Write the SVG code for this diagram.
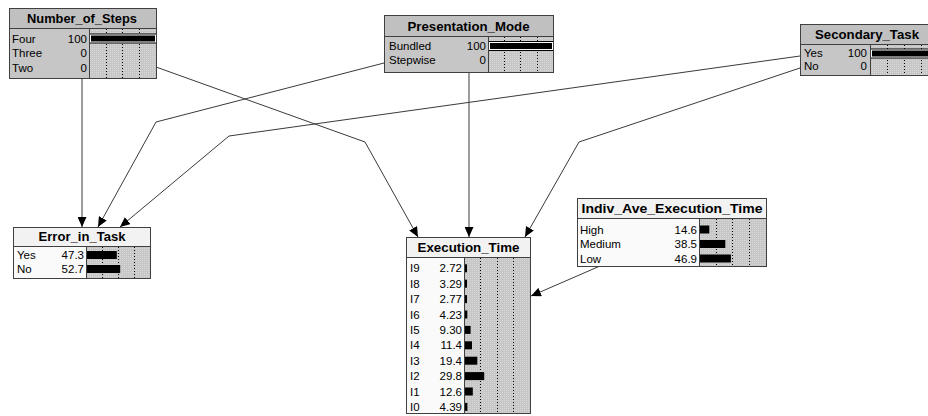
<svg xmlns="http://www.w3.org/2000/svg" width="928" height="416" viewBox="0 0 928 416">
<defs>
<pattern id="stip" width="2" height="2" patternUnits="userSpaceOnUse">
<rect width="2" height="2" fill="#c6c6c6"/>
<rect width="1" height="1" fill="#d8d8d8"/>
</pattern>
<marker id="ah" markerUnits="userSpaceOnUse" markerWidth="10" markerHeight="9" refX="10" refY="4.5" orient="auto">
<path d="M0,0 L10,4.5 L0,9 z" fill="#000"/>
</marker>
</defs>
<style>
.box{stroke:#404040;stroke-width:1}
.ev{fill:#c0c0c0}
.evb{fill:#c6c6c6}
.nh{fill:#f2f2f2}
.nb{fill:#fafafa}
.ba{fill:url(#stip)}
.sep{stroke:#404040;stroke-width:1}
.dot{stroke:#000;stroke-width:1;stroke-dasharray:1 2}
.t{font-family:"Liberation Sans",Arial,sans-serif;font-size:13px;font-weight:bold;fill:#000;text-anchor:middle}
.l{font-family:"Liberation Sans",Arial,sans-serif;font-size:11.5px;fill:#000}
.v{font-family:"Liberation Sans",Arial,sans-serif;font-size:11.5px;fill:#000;text-anchor:end}
.bar{fill:#000}
.ct{fill:none;stroke:#3a3a3a;stroke-width:1;marker-end:url(#ah)}
</style>
<rect width="928" height="416" fill="#fff"/>

<g id="connectors">
<polyline class="ct" points="82,78 82,227"/>
<polyline class="ct" points="384,63 156,122 98,227"/>
<polyline class="ct" points="800,56 229,136 120,227"/>
<polyline class="ct" points="156,67 365,142 418,237"/>
<polyline class="ct" points="469,72 469,237"/>
<polyline class="ct" points="800,68 579,142 525,237"/>
<polyline class="ct" points="600,266 531,296"/>
</g>

<g id="Number_of_Steps">
<rect class="ev" x="9.5" y="8.5" width="147" height="70"/>
<rect class="evb" x="9.5" y="28.5" width="80" height="50"/>
<rect class="ba" x="89.5" y="28.5" width="67" height="50"/>
<line class="dot" x1="106.5" y1="29" x2="106.5" y2="78"/>
<line class="dot" x1="122.5" y1="29" x2="122.5" y2="78"/>
<line class="dot" x1="139.5" y1="29" x2="139.5" y2="78"/>
<rect class="bar" x="89.5" y="33.5" width="67" height="10"/>
<rect x="90.5" y="35" width="65" height="7" fill="none" stroke="#fff" stroke-width="1"/>
<rect class="box" x="9.5" y="8.5" width="147" height="70" fill="none"/>
<line class="sep" x1="9.5" y1="28.5" x2="156.5" y2="28.5"/>
<line class="sep" x1="89.5" y1="28.5" x2="89.5" y2="78.5"/>
<text class="t" x="82" y="22.5" textLength="110" lengthAdjust="spacingAndGlyphs">Number_of_Steps</text>
<text class="l" x="12" y="42.5">Four</text><text class="v" x="87" y="42.5">100</text>
<text class="l" x="12" y="57">Three</text><text class="v" x="87" y="57">0</text>
<text class="l" x="12" y="71.5">Two</text><text class="v" x="87" y="71.5">0</text>
</g>

<g id="Presentation_Mode">
<rect class="ev" x="384.5" y="15.5" width="169" height="57"/>
<rect class="evb" x="384.5" y="36.5" width="104" height="36"/>
<rect class="ba" x="488.5" y="36.5" width="65" height="36"/>
<line class="dot" x1="504.5" y1="37" x2="504.5" y2="72"/>
<line class="dot" x1="520.5" y1="37" x2="520.5" y2="72"/>
<line class="dot" x1="537.5" y1="37" x2="537.5" y2="72"/>
<rect class="bar" x="488.5" y="41" width="65" height="10"/>
<rect x="489.5" y="42.5" width="63" height="7" fill="none" stroke="#fff" stroke-width="1"/>
<rect class="box" x="384.5" y="15.5" width="169" height="57" fill="none"/>
<line class="sep" x1="384.5" y1="36.5" x2="553.5" y2="36.5"/>
<line class="sep" x1="488.5" y1="36.5" x2="488.5" y2="72.5"/>
<text class="t" x="468.5" y="30.5" textLength="122" lengthAdjust="spacingAndGlyphs">Presentation_Mode</text>
<text class="l" x="389" y="49.5">Bundled</text><text class="v" x="486" y="49.5">100</text>
<text class="l" x="389" y="64">Stepwise</text><text class="v" x="486" y="64">0</text>
</g>

<g id="Secondary_Task">
<rect class="ev" x="800.5" y="24.5" width="137" height="51"/>
<rect class="evb" x="800.5" y="44.5" width="70" height="31"/>
<rect class="ba" x="870.5" y="44.5" width="67" height="31"/>
<line class="dot" x1="887.5" y1="45" x2="887.5" y2="75"/>
<line class="dot" x1="904.5" y1="45" x2="904.5" y2="75"/>
<line class="dot" x1="921.5" y1="45" x2="921.5" y2="75"/>
<rect class="bar" x="870.5" y="48.5" width="67" height="10"/>
<rect x="871.5" y="50" width="65" height="7" fill="none" stroke="#fff" stroke-width="1"/>
<rect class="box" x="800.5" y="24.5" width="137" height="51" fill="none"/>
<line class="sep" x1="800.5" y1="44.5" x2="937.5" y2="44.5"/>
<line class="sep" x1="870.5" y1="44.5" x2="870.5" y2="75.5"/>
<text class="t" x="867" y="38.5" textLength="104" lengthAdjust="spacingAndGlyphs">Secondary_Task</text>
<text class="l" x="804" y="57">Yes</text><text class="v" x="867" y="57">100</text>
<text class="l" x="804" y="70">No</text><text class="v" x="867" y="70">0</text>
</g>

<g id="Error_in_Task">
<rect class="nh" x="13.5" y="227.5" width="137" height="51"/>
<rect class="nb" x="13.5" y="246.5" width="73" height="32"/>
<rect class="ba" x="86.5" y="246.5" width="64" height="32"/>
<line class="dot" x1="102.5" y1="247" x2="102.5" y2="278"/>
<line class="dot" x1="118.5" y1="247" x2="118.5" y2="278"/>
<line class="dot" x1="134.5" y1="247" x2="134.5" y2="278"/>
<rect class="bar" x="86.5" y="251" width="30.3" height="8"/>
<rect class="bar" x="86.5" y="265" width="33.7" height="8"/>
<rect class="box" x="13.5" y="227.5" width="137" height="51" fill="none"/>
<line class="sep" x1="13.5" y1="246.5" x2="150.5" y2="246.5"/>
<line class="sep" x1="86.5" y1="246.5" x2="86.5" y2="278.5"/>
<text class="t" x="82" y="241" textLength="87" lengthAdjust="spacingAndGlyphs">Error_in_Task</text>
<text class="l" x="17" y="259">Yes</text><text class="v" x="84" y="259">47.3</text>
<text class="l" x="17" y="273">No</text><text class="v" x="84" y="273">52.7</text>
</g>

<g id="Execution_Time">
<rect class="nh" x="406.5" y="237.5" width="124" height="176"/>
<rect class="nb" x="406.5" y="257.5" width="58" height="156"/>
<rect class="ba" x="464.5" y="257.5" width="66" height="156"/>
<line class="dot" x1="480.5" y1="258" x2="480.5" y2="413"/>
<line class="dot" x1="497.5" y1="258" x2="497.5" y2="413"/>
<line class="dot" x1="513.5" y1="258" x2="513.5" y2="413"/>
<rect class="bar" x="464.5" y="264.3" width="2.5" height="8"/>
<rect class="bar" x="464.5" y="279.7" width="2.5" height="8"/>
<rect class="bar" x="464.5" y="295.1" width="2.5" height="8"/>
<rect class="bar" x="464.5" y="310.5" width="2.8" height="8"/>
<rect class="bar" x="464.5" y="325.9" width="6.1" height="8"/>
<rect class="bar" x="464.5" y="341.3" width="7.5" height="8"/>
<rect class="bar" x="464.5" y="356.7" width="12.8" height="8"/>
<rect class="bar" x="464.5" y="372.1" width="19.7" height="8"/>
<rect class="bar" x="464.5" y="387.5" width="8.3" height="8"/>
<rect class="bar" x="464.5" y="402.9" width="2.9" height="8"/>
<rect class="box" x="406.5" y="237.5" width="124" height="176" fill="none"/>
<line class="sep" x1="406.5" y1="257.5" x2="530.5" y2="257.5"/>
<line class="sep" x1="464.5" y1="257.5" x2="464.5" y2="413.5"/>
<text class="t" x="468.5" y="251.5" textLength="102" lengthAdjust="spacingAndGlyphs">Execution_Time</text>
<text class="l" x="410" y="272.3">I9</text><text class="v" x="462" y="272.3">2.72</text>
<text class="l" x="410" y="287.7">I8</text><text class="v" x="462" y="287.7">3.29</text>
<text class="l" x="410" y="303.1">I7</text><text class="v" x="462" y="303.1">2.77</text>
<text class="l" x="410" y="318.5">I6</text><text class="v" x="462" y="318.5">4.23</text>
<text class="l" x="410" y="333.9">I5</text><text class="v" x="462" y="333.9">9.30</text>
<text class="l" x="410" y="349.3">I4</text><text class="v" x="462" y="349.3">11.4</text>
<text class="l" x="410" y="364.7">I3</text><text class="v" x="462" y="364.7">19.4</text>
<text class="l" x="410" y="380.1">I2</text><text class="v" x="462" y="380.1">29.8</text>
<text class="l" x="410" y="395.5">I1</text><text class="v" x="462" y="395.5">12.6</text>
<text class="l" x="410" y="410.9">I0</text><text class="v" x="462" y="410.9">4.39</text>
</g>

<g id="Indiv_Ave_Execution_Time">
<rect class="nh" x="577.5" y="198.5" width="189" height="68"/>
<rect class="nb" x="577.5" y="218.5" width="122" height="48"/>
<rect class="ba" x="699.5" y="218.5" width="67" height="48"/>
<line class="dot" x1="716.5" y1="219" x2="716.5" y2="266"/>
<line class="dot" x1="732.5" y1="219" x2="732.5" y2="266"/>
<line class="dot" x1="749.5" y1="219" x2="749.5" y2="266"/>
<rect class="bar" x="699.5" y="225.5" width="9.8" height="8"/>
<rect class="bar" x="699.5" y="240" width="25.8" height="8"/>
<rect class="bar" x="699.5" y="254.5" width="31.4" height="8"/>
<rect class="box" x="577.5" y="198.5" width="189" height="68" fill="none"/>
<line class="sep" x1="577.5" y1="218.5" x2="766.5" y2="218.5"/>
<line class="sep" x1="699.5" y1="218.5" x2="699.5" y2="266.5"/>
<text class="t" x="672" y="212.5" textLength="181" lengthAdjust="spacingAndGlyphs">Indiv_Ave_Execution_Time</text>
<text class="l" x="580" y="233.5">High</text><text class="v" x="697" y="233.5">14.6</text>
<text class="l" x="580" y="248">Medium</text><text class="v" x="697" y="248">38.5</text>
<text class="l" x="580" y="262.5">Low</text><text class="v" x="697" y="262.5">46.9</text>
</g>
</svg>
